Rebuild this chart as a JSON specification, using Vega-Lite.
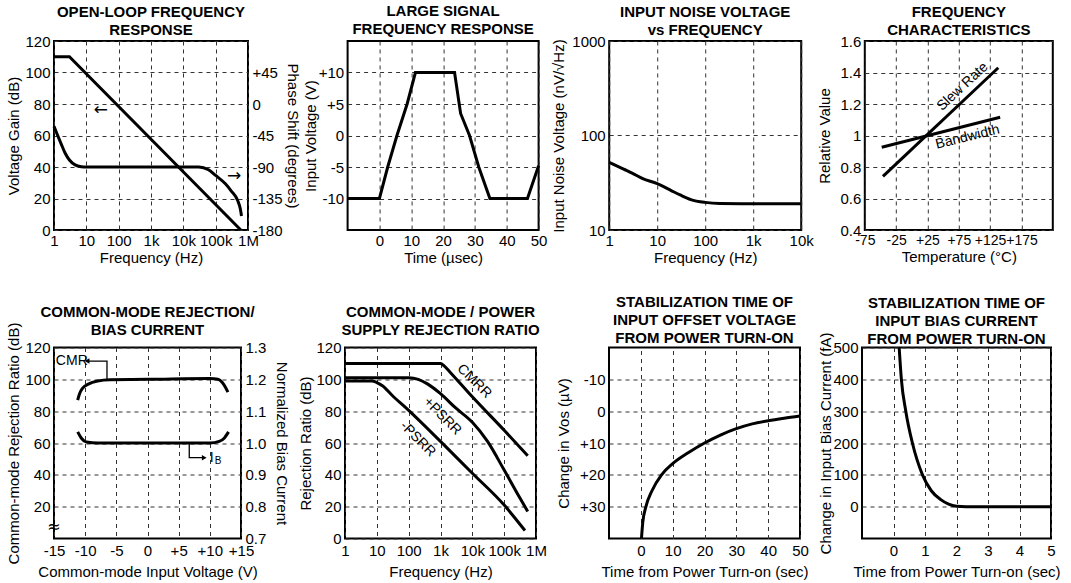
{
  "$schema": "https://vega.github.io/schema/vega-lite/v6.json",
  "padding": {"left": 5, "top": 2, "right": 0, "bottom": 0},
  "background": "white",
  "config": {
    "font": "Liberation Sans",
    "view": {"stroke": "black", "strokeWidth": 2},
    "axis": {"labelFontSize": 15, "titleFontSize": 15, "titleFontWeight": "normal", "labelColor": "black", "titleColor": "black", "ticks": false, "domain": false, "grid": true, "gridColor": "#333", "gridDash": [4, 4], "gridWidth": 1, "labelFlush": false, "labelOverlap": false, "labelBound": false, "labelPadding": 4, "titlePadding": 3},
    "title": {"fontSize": 15, "fontWeight": "bold", "color": "black", "lineHeight": 18, "offset": 1, "frame": "group", "anchor": "middle"},
    "line": {"color": "black", "strokeWidth": 3},
    "text": {"color": "black", "fontSize": 14}
  },
  "spacing": 27.5,
  "vconcat": [
    {
      "spacing": 0.6,
      "hconcat": [
        {
          "title": {"text": ["OPEN-LOOP FREQUENCY", "RESPONSE"], "offset": -3.5},
          "width": 194, "height": 189,
          "layer": [
            {
              "data": {"values": [{"f": 1, "g": 110}, {"f": 3, "g": 110}, {"f": 600000, "g": 0}]},
              "mark": {"type": "line"},
              "encoding": {
                "x": {"field": "f", "type": "quantitative", "scale": {"type": "log", "domain": [1, 1000000]}, "axis": {"title": "Frequency (Hz)", "values": [1, 10, 100, 1000, 10000, 100000, 1000000], "labelExpr": "datum.value >= 1000000 ? '1M' : datum.value >= 1000 ? (datum.value/1000) + 'k' : '' + datum.value", "labelPadding": 3, "titlePadding": 2, "labelOverlap": false, "grid": true, "gridColor": "#333", "gridDash": [4, 4], "gridWidth": 1}},
                "y": {"field": "g", "type": "quantitative", "scale": {"domain": [0, 120]}, "axis": {"title": "Voltage Gain (dB)", "values": [0, 20, 40, 60, 80, 100, 120], "titlePadding": 3.4, "labelOverlap": false, "grid": true, "gridColor": "#333", "gridDash": [4, 4], "gridWidth": 1}}
              }
            },
            {
              "data": {"values": [{"f": 28, "g": 76, "t": "←"}, {"f": 370000, "g": 34, "t": "→"}]},
              "mark": {"type": "text", "font": "DejaVu Sans", "fontSize": 17},
              "encoding": {
                "x": {"field": "f", "type": "quantitative", "scale": {"type": "log", "domain": [1, 1000000]}, "axis": {"title": "Frequency (Hz)", "values": [1, 10, 100, 1000, 10000, 100000, 1000000], "labelExpr": "datum.value >= 1000000 ? '1M' : datum.value >= 1000 ? (datum.value/1000) + 'k' : '' + datum.value", "labelPadding": 3, "titlePadding": 2, "labelOverlap": false, "grid": true, "gridColor": "#333", "gridDash": [4, 4], "gridWidth": 1}},
                "y": {"field": "g", "type": "quantitative", "scale": {"domain": [0, 120]}, "axis": null},
                "text": {"field": "t"}
              }
            },
            {
              "data": {"values": [
                {"f": 1, "p": -32}, {"f": 1.3, "p": -45}, {"f": 1.7, "p": -58}, {"f": 2.2, "p": -70}, {"f": 3, "p": -80}, {"f": 4.5, "p": -87}, {"f": 7, "p": -89.5}, {"f": 10, "p": -90}, {"f": 1000, "p": -90}, {"f": 30000, "p": -90}, {"f": 60000, "p": -94}, {"f": 100000, "p": -102}, {"f": 200000, "p": -114}, {"f": 300000, "p": -124}, {"f": 480000, "p": -138}, {"f": 580000, "p": -150}, {"f": 630000, "p": -160}
              ]},
              "mark": {"type": "line", "interpolate": "monotone"},
              "encoding": {
                "x": {"field": "f", "type": "quantitative", "scale": {"type": "log", "domain": [1, 1000000]}, "axis": {"title": "Frequency (Hz)", "values": [1, 10, 100, 1000, 10000, 100000, 1000000], "labelExpr": "datum.value >= 1000000 ? '1M' : datum.value >= 1000 ? (datum.value/1000) + 'k' : '' + datum.value", "labelPadding": 3, "titlePadding": 2, "labelOverlap": false, "grid": true, "gridColor": "#333", "gridDash": [4, 4], "gridWidth": 1}},
                "y": {"field": "p", "type": "quantitative", "scale": {"domain": [-180, 90]}, "axis": {"orient": "right", "title": "Phase Shift (degrees)", "grid": false, "values": [-180, -135, -90, -45, 0, 45], "labelExpr": "datum.value > 0 ? '+' + datum.value : '' + datum.value", "titlePadding": 2, "labelOverlap": false}}
              }
            }
          ],
          "resolve": {"scale": {"y": "independent"}, "axis": {"y": "independent"}}
        },
        {
          "title": {"text": ["LARGE SIGNAL", "FREQUENCY  RESPONSE"], "offset": 4.5},
          "width": 191, "height": 189,
          "data": {"values": [
            {"t": -10, "v": -10}, {"t": 0, "v": -10}, {"t": 2.6, "v": -5}, {"t": 5.5, "v": 0}, {"t": 8.7, "v": 5}, {"t": 11.3, "v": 10}, {"t": 23.6, "v": 10}, {"t": 25.5, "v": 3.5}, {"t": 28.3, "v": 0}, {"t": 31.2, "v": -5}, {"t": 34.7, "v": -10}, {"t": 46.5, "v": -10}, {"t": 50, "v": -4.8}
          ]},
          "mark": {"type": "line"},
          "encoding": {
            "x": {"field": "t", "type": "quantitative", "scale": {"domain": [-10, 50]}, "axis": {"title": "Time (µsec)", "values": [0, 10, 20, 30, 40, 50], "labelPadding": 3, "titlePadding": 2, "labelOverlap": false, "grid": true, "gridColor": "#333", "gridDash": [4, 4], "gridWidth": 1}},
            "y": {"field": "v", "type": "quantitative", "scale": {"domain": [-15, 15]}, "axis": {"title": "Input Voltage (V)", "values": [-10, -5, 0, 5, 10], "labelExpr": "datum.value > 0 ? '+' + datum.value : '' + datum.value", "titlePadding": 0, "labelOverlap": false, "grid": true, "gridColor": "#333", "gridDash": [4, 4], "gridWidth": 1}}
          }
        },
        {
          "title": {"text": ["INPUT NOISE VOLTAGE", "vs FREQUENCY"], "offset": -3.5},
          "width": 192, "height": 189,
          "data": {"values": [
            {"f": 1, "n": 52}, {"f": 2, "n": 44}, {"f": 3, "n": 40}, {"f": 5, "n": 35}, {"f": 10, "n": 31}, {"f": 20, "n": 26}, {"f": 30, "n": 23.5}, {"f": 50, "n": 21}, {"f": 100, "n": 19.6}, {"f": 200, "n": 19.1}, {"f": 1000, "n": 19}, {"f": 10000, "n": 19}
          ]},
          "mark": {"type": "line", "interpolate": "monotone"},
          "encoding": {
            "x": {"field": "f", "type": "quantitative", "scale": {"type": "log", "domain": [1, 10000]}, "axis": {"title": "Frequency (Hz)", "values": [1, 10, 100, 1000, 10000], "labelExpr": "datum.value >= 1000 ? (datum.value/1000) + 'k' : '' + datum.value", "labelPadding": 3, "titlePadding": 2, "labelOverlap": false, "grid": true, "gridColor": "#333", "gridDash": [4, 4], "gridWidth": 1}},
            "y": {"field": "n", "type": "quantitative", "scale": {"type": "log", "domain": [10, 1000]}, "axis": {"title": "Input Noise Voltage (nV/√Hz)", "values": [10, 100, 1000], "labelExpr": "'' + datum.value", "titlePadding": 5.8, "labelOverlap": false, "grid": true, "gridColor": "#333", "gridDash": [4, 4], "gridWidth": 1}}
          }
        },
        {
          "title": {"text": ["FREQUENCY", "CHARACTERISTICS"], "offset": -3.5},
          "width": 188, "height": 189,
          "layer": [
            {
              "data": {"values": [
                {"t": -46, "r": 0.74, "s": "Slew Rate"}, {"t": 138, "r": 1.43, "s": "Slew Rate"},
                {"t": -48, "r": 0.925, "s": "Bandwidth"}, {"t": 141, "r": 1.116, "s": "Bandwidth"}
              ]},
              "mark": {"type": "line"},
              "encoding": {
                "x": {"field": "t", "type": "quantitative", "scale": {"domain": [-75, 225]}, "axis": {"title": "Temperature (°C)", "values": [-75, -25, 25, 75, 125, 175], "labelExpr": "datum.value > 0 ? '+' + datum.value : '' + datum.value", "labelFontSize": 14, "labelPadding": 3, "titlePadding": 2, "labelOverlap": false, "grid": true, "gridColor": "#333", "gridDash": [4, 4], "gridWidth": 1}},
                "y": {"field": "r", "type": "quantitative", "scale": {"domain": [0.4, 1.6]}, "axis": {"title": "Relative Value", "values": [0.4, 0.6, 0.8, 1, 1.2, 1.4, 1.6], "format": "~g", "titlePadding": 7.9, "labelOverlap": false, "grid": true, "gridColor": "#333", "gridDash": [4, 4], "gridWidth": 1}},
                "detail": {"field": "s"}
              }
            },
            {
              "data": {"values": [{"t": 81, "r": 1.31, "l": "Slew Rate"}]},
              "mark": {"type": "text", "angle": -43},
              "encoding": {
                "x": {"field": "t", "type": "quantitative", "scale": {"domain": [-75, 225]}, "axis": {"title": "Temperature (°C)", "values": [-75, -25, 25, 75, 125, 175], "labelExpr": "datum.value > 0 ? '+' + datum.value : '' + datum.value", "labelFontSize": 14, "labelPadding": 3, "titlePadding": 2, "labelOverlap": false, "grid": true, "gridColor": "#333", "gridDash": [4, 4], "gridWidth": 1}},
                "y": {"field": "r", "type": "quantitative", "scale": {"domain": [0.4, 1.6]}, "axis": {"title": "Relative Value", "values": [0.4, 0.6, 0.8, 1, 1.2, 1.4, 1.6], "format": "~g", "titlePadding": 7.9, "labelOverlap": false, "grid": true, "gridColor": "#333", "gridDash": [4, 4], "gridWidth": 1}},
                "text": {"field": "l"}
              }
            },
            {
              "data": {"values": [{"t": 89, "r": 0.99, "l": "Bandwidth"}]},
              "mark": {"type": "text", "angle": -14},
              "encoding": {
                "x": {"field": "t", "type": "quantitative", "scale": {"domain": [-75, 225]}, "axis": {"title": "Temperature (°C)", "values": [-75, -25, 25, 75, 125, 175], "labelExpr": "datum.value > 0 ? '+' + datum.value : '' + datum.value", "labelFontSize": 14, "labelPadding": 3, "titlePadding": 2, "labelOverlap": false, "grid": true, "gridColor": "#333", "gridDash": [4, 4], "gridWidth": 1}},
                "y": {"field": "r", "type": "quantitative", "scale": {"domain": [0.4, 1.6]}, "axis": {"title": "Relative Value", "values": [0.4, 0.6, 0.8, 1, 1.2, 1.4, 1.6], "format": "~g", "titlePadding": 7.9, "labelOverlap": false, "grid": true, "gridColor": "#333", "gridDash": [4, 4], "gridWidth": 1}},
                "text": {"field": "l"}
              }
            }
          ]
        }
      ]
    },
    {
      "spacing": 7,
      "hconcat": [
        {
          "title": {"text": ["COMMON-MODE REJECTION/", "BIAS CURRENT"], "offset": -16},
          "width": 187, "height": 191,
          "layer": [
            {
              "data": {"values": [
                {"v": -11.2, "c": 87}, {"v": -10.9, "c": 91}, {"v": -10.4, "c": 94.5}, {"v": -9.5, "c": 97}, {"v": -8, "c": 99}, {"v": -6, "c": 99.8}, {"v": 0, "c": 100}, {"v": 10, "c": 100.5}, {"v": 11.3, "c": 100}, {"v": 12.0, "c": 98}, {"v": 12.5, "c": 95}, {"v": 12.9, "c": 92}
              ]},
              "mark": {"type": "line", "interpolate": "monotone"},
              "encoding": {
                "x": {"field": "v", "type": "quantitative", "scale": {"domain": [-15, 15]}, "axis": {"title": "Common-mode Input Voltage (V)", "values": [-15, -10, -5, 0, 5, 10, 15], "labelExpr": "datum.value > 0 ? '+' + datum.value : '' + datum.value", "labelPadding": 5, "titlePadding": 6, "labelOverlap": false, "grid": true, "gridColor": "#333", "gridDash": [4, 4], "gridWidth": 1}},
                "y": {"field": "c", "type": "quantitative", "scale": {"domain": [0, 120]}, "axis": {"title": "Common-mode Rejection Ratio (dB)", "values": [20, 40, 60, 80, 100, 120], "titlePadding": 3.4, "labelOverlap": false, "grid": true, "gridColor": "#333", "gridDash": [4, 4], "gridWidth": 1}}
              }
            },
            {
              "data": {"values": [
                {"v": -9.6, "c": 111.5, "k": "cmr", "i": 0}, {"v": -6.5, "c": 111.5, "k": "cmr", "i": 1}, {"v": -6.5, "c": 100, "k": "cmr", "i": 2},
                {"v": 6.7, "c": 60, "k": "ib", "i": 0}, {"v": 6.7, "c": 50.8, "k": "ib", "i": 1}, {"v": 9.0, "c": 50.8, "k": "ib", "i": 2}
              ]},
              "mark": {"type": "line", "strokeWidth": 1.3},
              "encoding": {
                "x": {"field": "v", "type": "quantitative", "scale": {"domain": [-15, 15]}, "axis": {"title": "Common-mode Input Voltage (V)", "values": [-15, -10, -5, 0, 5, 10, 15], "labelExpr": "datum.value > 0 ? '+' + datum.value : '' + datum.value", "labelPadding": 5, "titlePadding": 6, "labelOverlap": false, "grid": true, "gridColor": "#333", "gridDash": [4, 4], "gridWidth": 1}},
                "y": {"field": "c", "type": "quantitative", "scale": {"domain": [0, 120]}, "axis": null},
                "detail": {"field": "k"}, "order": {"field": "i"}
              }
            },
            {
              "data": {"values": [{"v": -9.7, "c": 111.5, "s": "triangle-left"}, {"v": 9.1, "c": 50.8, "s": "triangle-right"}]},
              "mark": {"type": "point", "filled": true, "size": 30, "color": "black", "opacity": 1},
              "encoding": {
                "x": {"field": "v", "type": "quantitative", "scale": {"domain": [-15, 15]}, "axis": {"title": "Common-mode Input Voltage (V)", "values": [-15, -10, -5, 0, 5, 10, 15], "labelExpr": "datum.value > 0 ? '+' + datum.value : '' + datum.value", "labelPadding": 5, "titlePadding": 6, "labelOverlap": false, "grid": true, "gridColor": "#333", "gridDash": [4, 4], "gridWidth": 1}},
                "y": {"field": "c", "type": "quantitative", "scale": {"domain": [0, 120]}, "axis": null},
                "shape": {"field": "s", "type": "nominal", "scale": null}
              }
            },
            {
              "data": {"values": [{"v": -14.7, "c": 111.5, "t": "CMR"}, {"v": 10.0, "c": 50.8, "t": "I"}]},
              "mark": {"type": "text", "align": "left"},
              "encoding": {
                "x": {"field": "v", "type": "quantitative", "scale": {"domain": [-15, 15]}, "axis": {"title": "Common-mode Input Voltage (V)", "values": [-15, -10, -5, 0, 5, 10, 15], "labelExpr": "datum.value > 0 ? '+' + datum.value : '' + datum.value", "labelPadding": 5, "titlePadding": 6, "labelOverlap": false, "grid": true, "gridColor": "#333", "gridDash": [4, 4], "gridWidth": 1}},
                "y": {"field": "c", "type": "quantitative", "scale": {"domain": [0, 120]}, "axis": null},
                "text": {"field": "t"}
              }
            },
            {
              "data": {"values": [{"v": 10.8, "c": 48.8, "t": "B"}]},
              "mark": {"type": "text", "align": "left", "fontSize": 10},
              "encoding": {
                "x": {"field": "v", "type": "quantitative", "scale": {"domain": [-15, 15]}, "axis": {"title": "Common-mode Input Voltage (V)", "values": [-15, -10, -5, 0, 5, 10, 15], "labelExpr": "datum.value > 0 ? '+' + datum.value : '' + datum.value", "labelPadding": 5, "titlePadding": 6, "labelOverlap": false, "grid": true, "gridColor": "#333", "gridDash": [4, 4], "gridWidth": 1}},
                "y": {"field": "c", "type": "quantitative", "scale": {"domain": [0, 120]}, "axis": null},
                "text": {"field": "t"}
              }
            },
            {
              "data": {"values": [{"v": -15, "c": 7, "t": "≈"}]},
              "mark": {"type": "text", "fontSize": 16, "font": "DejaVu Sans"},
              "encoding": {
                "x": {"field": "v", "type": "quantitative", "scale": {"domain": [-15, 15]}, "axis": {"title": "Common-mode Input Voltage (V)", "values": [-15, -10, -5, 0, 5, 10, 15], "labelExpr": "datum.value > 0 ? '+' + datum.value : '' + datum.value", "labelPadding": 5, "titlePadding": 6, "labelOverlap": false, "grid": true, "gridColor": "#333", "gridDash": [4, 4], "gridWidth": 1}},
                "y": {"field": "c", "type": "quantitative", "scale": {"domain": [0, 120]}, "axis": null},
                "text": {"field": "t"}
              }
            },
            {
              "data": {"values": [
                {"v": -11.2, "b": 1.035}, {"v": -10.6, "b": 1.015}, {"v": -9.8, "b": 1.003}, {"v": -8, "b": 1.0}, {"v": 10, "b": 1.0}, {"v": 11.5, "b": 1.005}, {"v": 12.3, "b": 1.015}, {"v": 13.0, "b": 1.035}
              ]},
              "mark": {"type": "line", "interpolate": "monotone"},
              "encoding": {
                "x": {"field": "v", "type": "quantitative", "scale": {"domain": [-15, 15]}, "axis": {"title": "Common-mode Input Voltage (V)", "values": [-15, -10, -5, 0, 5, 10, 15], "labelExpr": "datum.value > 0 ? '+' + datum.value : '' + datum.value", "labelPadding": 5, "titlePadding": 6, "labelOverlap": false, "grid": true, "gridColor": "#333", "gridDash": [4, 4], "gridWidth": 1}},
                "y": {"field": "b", "type": "quantitative", "scale": {"domain": [0.7, 1.3]}, "axis": {"orient": "right", "title": "Normalized Bias Current", "grid": false, "values": [0.7, 0.8, 0.9, 1.0, 1.1, 1.2, 1.3], "format": ".1f", "titlePadding": 8, "labelOverlap": false}}
              }
            }
          ],
          "resolve": {"scale": {"y": "independent"}, "axis": {"y": "independent"}}
        },
        {
          "title": {"text": ["COMMON-MODE / POWER", "SUPPLY REJECTION RATIO"], "offset": 3},
          "width": 191, "height": 191,
          "layer": [
            {
              "data": {"values": [
                {"f": 1, "r": 110, "s": "CMRR"}, {"f": 1000, "r": 110, "s": "CMRR"}, {"f": 1300, "r": 108.5, "s": "CMRR"}, {"f": 2000, "r": 104.5, "s": "CMRR"}, {"f": 10000, "r": 89, "s": "CMRR"}, {"f": 100000, "r": 68, "s": "CMRR"}, {"f": 550000, "r": 52, "s": "CMRR"},
                {"f": 1, "r": 101, "s": "+PSRR"}, {"f": 100, "r": 101, "s": "+PSRR"}, {"f": 200, "r": 100, "s": "+PSRR"}, {"f": 400, "r": 97, "s": "+PSRR"}, {"f": 1000, "r": 91, "s": "+PSRR"}, {"f": 3000, "r": 82, "s": "+PSRR"}, {"f": 10000, "r": 73, "s": "+PSRR"}, {"f": 30000, "r": 61, "s": "+PSRR"}, {"f": 100000, "r": 43, "s": "+PSRR"}, {"f": 300000, "r": 26, "s": "+PSRR"}, {"f": 550000, "r": 17, "s": "+PSRR"},
                {"f": 1, "r": 99, "s": "-PSRR"}, {"f": 7, "r": 99, "s": "-PSRR"}, {"f": 10, "r": 98, "s": "-PSRR"}, {"f": 15, "r": 96, "s": "-PSRR"}, {"f": 30, "r": 90, "s": "-PSRR"}, {"f": 100, "r": 80.5, "s": "-PSRR"}, {"f": 1000, "r": 61, "s": "-PSRR"}, {"f": 10000, "r": 41, "s": "-PSRR"}, {"f": 100000, "r": 21, "s": "-PSRR"}, {"f": 450000, "r": 5, "s": "-PSRR"}
              ]},
              "mark": {"type": "line", "interpolate": "monotone"},
              "encoding": {
                "x": {"field": "f", "type": "quantitative", "scale": {"type": "log", "domain": [1, 1000000]}, "axis": {"title": "Frequency (Hz)", "values": [1, 10, 100, 1000, 10000, 100000, 1000000], "labelExpr": "datum.value >= 1000000 ? '1M' : datum.value >= 1000 ? (datum.value/1000) + 'k' : '' + datum.value", "labelPadding": 5, "titlePadding": 6, "labelOverlap": false, "grid": true, "gridColor": "#333", "gridDash": [4, 4], "gridWidth": 1}},
                "y": {"field": "r", "type": "quantitative", "scale": {"domain": [0, 120]}, "axis": {"title": "Rejection Ratio (dB)", "values": [0, 20, 40, 60, 80, 100, 120], "titlePadding": 2, "labelOverlap": false, "grid": true, "gridColor": "#333", "gridDash": [4, 4], "gridWidth": 1}},
                "detail": {"field": "s"}
              }
            },
            {
              "data": {"values": [{"f": 11500, "r": 98.8, "l": "CMRR"}, {"f": 1150, "r": 76.8, "l": "+PSRR"}, {"f": 194, "r": 62.4, "l": "-PSRR"}]},
              "mark": {"type": "text", "angle": 45},
              "encoding": {
                "x": {"field": "f", "type": "quantitative", "scale": {"type": "log", "domain": [1, 1000000]}, "axis": {"title": "Frequency (Hz)", "values": [1, 10, 100, 1000, 10000, 100000, 1000000], "labelExpr": "datum.value >= 1000000 ? '1M' : datum.value >= 1000 ? (datum.value/1000) + 'k' : '' + datum.value", "labelPadding": 5, "titlePadding": 6, "labelOverlap": false, "grid": true, "gridColor": "#333", "gridDash": [4, 4], "gridWidth": 1}},
                "y": {"field": "r", "type": "quantitative", "scale": {"domain": [0, 120]}, "axis": {"title": "Rejection Ratio (dB)", "values": [0, 20, 40, 60, 80, 100, 120], "titlePadding": 2, "labelOverlap": false, "grid": true, "gridColor": "#333", "gridDash": [4, 4], "gridWidth": 1}},
                "text": {"field": "l"}
              }
            }
          ]
        },
        {
          "title": {"text": ["STABILIZATION TIME OF", "INPUT OFFSET VOLTAGE", "FROM POWER TURN-ON"], "offset": 2},
          "width": 191, "height": 191,
          "data": {"values": [
            {"t": 0.2, "d": 40}, {"t": 0.6, "d": 35}, {"t": 1.6, "d": 30}, {"t": 3.5, "d": 25}, {"t": 6.5, "d": 20}, {"t": 10, "d": 16.5}, {"t": 15, "d": 13}, {"t": 20, "d": 10}, {"t": 25, "d": 7.5}, {"t": 30, "d": 5.5}, {"t": 35, "d": 4}, {"t": 40, "d": 3}, {"t": 45, "d": 2.2}, {"t": 50, "d": 1.5}
          ]},
          "mark": {"type": "line", "interpolate": "monotone"},
          "encoding": {
            "x": {"field": "t", "type": "quantitative", "scale": {"domain": [-10, 50]}, "axis": {"title": "Time from Power Turn-on (sec)", "values": [0, 10, 20, 30, 40, 50], "labelPadding": 5, "titlePadding": 6, "labelOverlap": false, "grid": true, "gridColor": "#333", "gridDash": [4, 4], "gridWidth": 1}},
            "y": {"field": "d", "type": "quantitative", "scale": {"domain": [-20, 40], "reverse": true}, "axis": {"title": "Change in Vos (µV)", "values": [-10, 0, 10, 20, 30], "labelExpr": "datum.value > 0 ? '+' + datum.value : '' + datum.value", "titlePadding": 8.5, "labelOverlap": false, "grid": true, "gridColor": "#333", "gridDash": [4, 4], "gridWidth": 1}}
          }
        },
        {
          "title": {"text": ["STABILIZATION TIME OF", "INPUT BIAS CURRENT", "FROM POWER TURN-ON"], "offset": -15},
          "width": 189, "height": 191,
          "data": {"values": [
            {"t": 0.18, "c": 500}, {"t": 0.25, "c": 400}, {"t": 0.39, "c": 300}, {"t": 0.6, "c": 200}, {"t": 0.92, "c": 100}, {"t": 1.2, "c": 50}, {"t": 1.5, "c": 22}, {"t": 1.75, "c": 8}, {"t": 2.0, "c": 1.5}, {"t": 2.3, "c": 0}, {"t": 5, "c": 0}
          ]},
          "mark": {"type": "line", "interpolate": "monotone"},
          "encoding": {
            "x": {"field": "t", "type": "quantitative", "scale": {"domain": [-1, 5]}, "axis": {"title": "Time from Power Turn-on (sec)", "values": [0, 1, 2, 3, 4, 5], "labelPadding": 5, "titlePadding": 6, "labelOverlap": false, "grid": true, "gridColor": "#333", "gridDash": [4, 4], "gridWidth": 1}},
            "y": {"field": "c", "type": "quantitative", "scale": {"domain": [-100, 500]}, "axis": {"title": "Change in Input Bias Current (fA)", "values": [0, 100, 200, 300, 400, 500], "titlePadding": -1, "labelOverlap": false, "grid": true, "gridColor": "#333", "gridDash": [4, 4], "gridWidth": 1}}
          }
        }
      ]
    }
  ]
}
